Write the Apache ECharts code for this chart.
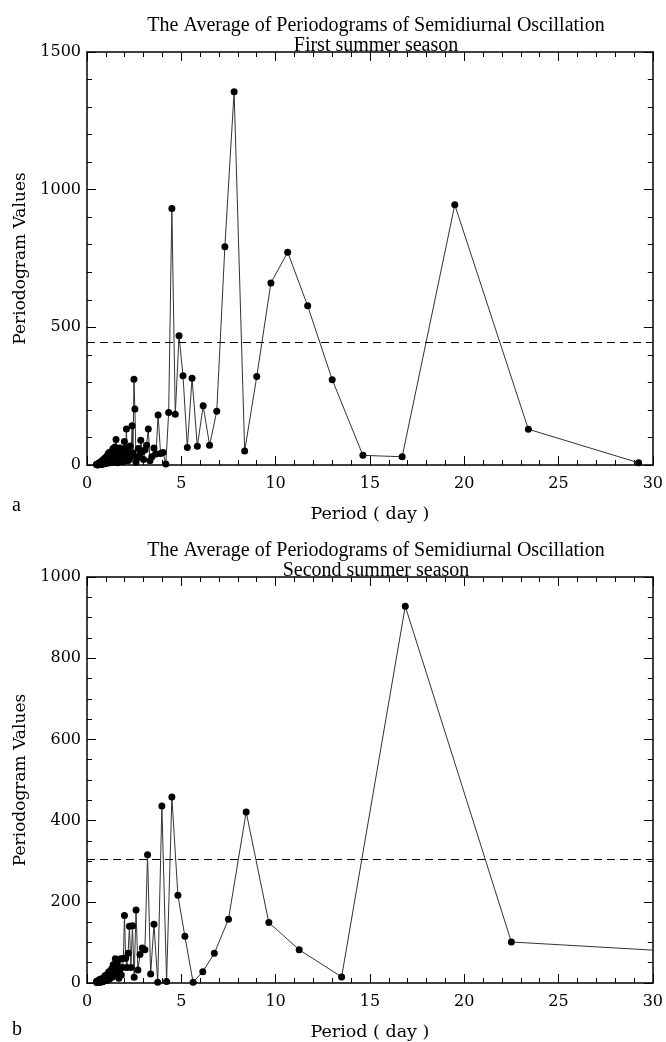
<!DOCTYPE html>
<html>
<head>
<meta charset="utf-8">
<script src="https://cdn.jsdelivr.net/npm/echarts@6/dist/echarts.min.js"></script>
<style>
html,body{margin:0;padding:0;background:#fff;}
#c{width:666px;height:1042px;}
</style>
</head>
<body>
<div id="c"></div>
<script>
// ---------- data ----------
const titleA = "The Average of Periodograms of Semidiurnal Oscillation\nFirst summer season";
const titleB = "The Average of Periodograms of Semidiurnal Oscillation\nSecond summer season";
const xName = "Period ( day )";
const yName = "Periodogram Values";
const panelLabels = ["a", "b"];

const periodsA = [0.50, 0.52, 0.54, 0.56, 0.585, 0.60, 0.61, 0.63, 0.66, 0.67, 0.69, 0.71, 0.72, 0.74, 0.76, 0.78, 0.80, 0.82, 0.84, 0.86, 0.88, 0.89, 0.91, 0.93, 0.95, 0.98, 1.00, 1.01, 1.03, 1.05, 1.06, 1.08, 1.10, 1.12, 1.14, 1.16, 1.17, 1.19, 1.21, 1.22, 1.24, 1.27, 1.28, 1.30, 1.32, 1.34, 1.36, 1.38, 1.39, 1.41, 1.43, 1.44, 1.46, 1.48, 1.50, 1.52, 1.54, 1.56, 1.58, 1.60, 1.63, 1.65, 1.67, 1.70, 1.72, 1.75, 1.77, 1.80, 1.83, 1.86, 1.89, 1.92, 1.95, 1.98, 2.02, 2.05, 2.09, 2.13, 2.17, 2.21, 2.25, 2.29, 2.34, 2.39, 2.44, 2.49, 2.54, 2.60, 2.66, 2.72, 2.79, 2.85, 2.93, 3.00, 3.08, 3.16, 3.25, 3.34, 3.44, 3.55, 3.66, 3.77, 3.90, 4.03, 4.18, 4.33, 4.50, 4.68, 4.88, 5.09, 5.32, 5.57, 5.85, 6.16, 6.50, 6.88, 7.31, 7.80, 8.36, 9.00, 9.75, 10.64, 11.70, 13.00, 14.63, 16.71, 19.50, 23.40, 29.25];
const valuesA = [2, 3, 1, 0, 4, 5, 1, 2, 4, 9, 6, 2, 10, 3, 6, 14, 8, 3, 18, 4, 9, 20, 12, 6, 25, 5, 12, 28, 15, 6, 32, 8, 18, 40, 22, 12, 45, 10, 25, 8, 30, 38, 14, 20, 50, 22, 35, 60, 10, 15, 42, 28, 50, 65, 25, 35, 93, 18, 40, 55, 8, 15, 30, 40, 55, 62, 20, 28, 45, 50, 12, 35, 30, 85, 60, 25, 131, 40, 15, 55, 20, 69, 30, 143, 44, 311, 203, 10, 25, 60, 35, 90, 48, 20, 55, 72, 131, 15, 30, 62, 40, 182, 42, 45, 4, 191, 932, 184, 469, 324, 64, 315, 68, 215, 72, 195, 793, 1356, 51, 321, 661, 773, 578, 310, 35, 30, 945, 130, 8];
const thresholdA = 446;

const periodsB = [0.50, 0.52, 0.54, 0.56, 0.59, 0.62, 0.65, 0.67, 0.70, 0.73, 0.77, 0.80, 0.84, 0.87, 0.91, 0.95, 0.99, 1.02, 1.05, 1.09, 1.125, 1.16, 1.20, 1.23, 1.27, 1.31, 1.35, 1.39, 1.44, 1.47, 1.50, 1.53, 1.57, 1.61, 1.65, 1.69, 1.73, 1.78, 1.82, 1.875, 1.93, 1.985, 2.05, 2.11, 2.18, 2.25, 2.33, 2.41, 2.50, 2.60, 2.70, 2.81, 2.93, 3.07, 3.21, 3.375, 3.55, 3.75, 3.97, 4.22, 4.50, 4.82, 5.19, 5.625, 6.14, 6.75, 7.50, 8.44, 9.64, 11.25, 13.50, 16.875, 22.50, 33.75];
const valuesB = [4, 1, 5, 2, 3, 6, 8, 2, 2, 10, 8, 4, 3, 12, 6, 18, 14, 8, 6, 22, 18, 28, 10, 20, 22, 35, 15, 45, 38, 25, 60, 22, 50, 40, 28, 12, 30, 60, 20, 38, 61, 166, 61, 38, 73, 140, 38, 141, 14, 180, 32, 70, 86, 82, 316, 22, 145, 2, 436, 4, 458, 216, 115, 2, 28, 73, 157, 421, 149, 82, 15, 928, 101, 71];
const thresholdB = 306;

const xTicks = [0, 5, 10, 15, 20, 25, 30];
const yTicksA = [0, 500, 1000, 1500];
const yTicksB = [0, 200, 400, 600, 800, 1000];

// ---------- chart ----------
const tickFont = 'DejaVu Serif';
const titleFont = 'Liberation Serif';

function pairs(xs, ys) { return xs.map((x, i) => [x, ys[i]]); }
function plain(v) { return String(v); }

function xAxisPair(gi) {
  const base = {
    gridIndex: gi, type: 'value', min: xTicks[0], max: xTicks[xTicks.length - 1],
    interval: xTicks[1] - xTicks[0],
    axisLine: { show: true, onZero: false, lineStyle: { color: '#000', width: 1.5 } },
    axisTick: { show: true, inside: true, length: 9, lineStyle: { color: '#000', width: 1 } },
    minorTick: { show: true, splitNumber: 5, length: 5, lineStyle: { color: '#000', width: 1 } },
    splitLine: { show: false }
  };
  return [
    Object.assign({}, base, {
      position: 'bottom',
      name: xName, nameLocation: 'middle', nameGap: 40,
      nameTextStyle: { fontFamily: tickFont, fontSize: 17.5, color: '#000' },
      axisLabel: { show: true, margin: 11, fontFamily: tickFont, fontSize: 16, color: '#000', formatter: plain }
    }),
    Object.assign({}, base, { position: 'top', axisLabel: { show: false } })
  ];
}

function yAxisPair(gi, ticks, minorSplit) {
  const base = {
    gridIndex: gi, type: 'value', min: ticks[0], max: ticks[ticks.length - 1],
    interval: ticks[1] - ticks[0],
    axisLine: { show: true, onZero: false, lineStyle: { color: '#000', width: 1.5 } },
    axisTick: { show: true, inside: true, length: 9, lineStyle: { color: '#000', width: 1 } },
    minorTick: { show: true, splitNumber: minorSplit, length: 5, lineStyle: { color: '#000', width: 1 } },
    splitLine: { show: false }
  };
  return [
    Object.assign({}, base, {
      position: 'left',
      name: yName, nameLocation: 'middle', nameGap: 58, nameRotate: 90,
      nameTextStyle: { fontFamily: tickFont, fontSize: 17, color: '#000' },
      axisLabel: { show: true, margin: 6, fontFamily: tickFont, fontSize: 16, color: '#000', formatter: plain }
    }),
    Object.assign({}, base, { position: 'right', axisLabel: { show: false } })
  ];
}

function seriesFor(gi, xs, ys, thr) {
  return {
    type: 'line', xAxisIndex: gi * 2, yAxisIndex: gi * 2,
    data: pairs(xs, ys),
    symbol: 'circle', symbolSize: 7, showAllSymbol: true, clip: true,
    itemStyle: { color: '#000' },
    lineStyle: { color: '#333', width: 1 },
    markLine: {
      silent: true, symbol: 'none', label: { show: false },
      lineStyle: { color: '#000', type: [8, 5], width: 1 },
      data: [{ yAxis: thr }]
    }
  };
}

const chart = echarts.init(document.getElementById('c'), null, { renderer: 'canvas' });
const titleStyle = { fontFamily: titleFont, fontSize: 20, fontWeight: 'normal', color: '#000', lineHeight: 20.5, align: 'center' };

chart.setOption({
  animation: false,
  backgroundColor: '#fff',
  title: [
    { text: titleA, left: 371, top: 10, textAlign: 'center', textStyle: titleStyle },
    { text: titleB, left: 371, top: 535, textAlign: 'center', textStyle: titleStyle }
  ],
  grid: [
    { left: 87, top: 52, width: 569, height: 413 },
    { left: 87, top: 577, width: 569, height: 413 }
  ],
  xAxis: [].concat(xAxisPair(0), xAxisPair(1)),
  yAxis: [].concat(yAxisPair(0, yTicksA, 5), yAxisPair(1, yTicksB, 4)),
  series: [
    seriesFor(0, periodsA, valuesA, thresholdA),
    seriesFor(1, periodsB, valuesB, thresholdB)
  ],
  graphic: [
    { type: 'text', left: 12, top: 496, style: { text: panelLabels[0], font: '20px "Liberation Serif"', fill: '#000' } },
    { type: 'text', left: 12, top: 1020, style: { text: panelLabels[1], font: '20px "Liberation Serif"', fill: '#000' } }
  ]
});
</script>
</body>
</html>
